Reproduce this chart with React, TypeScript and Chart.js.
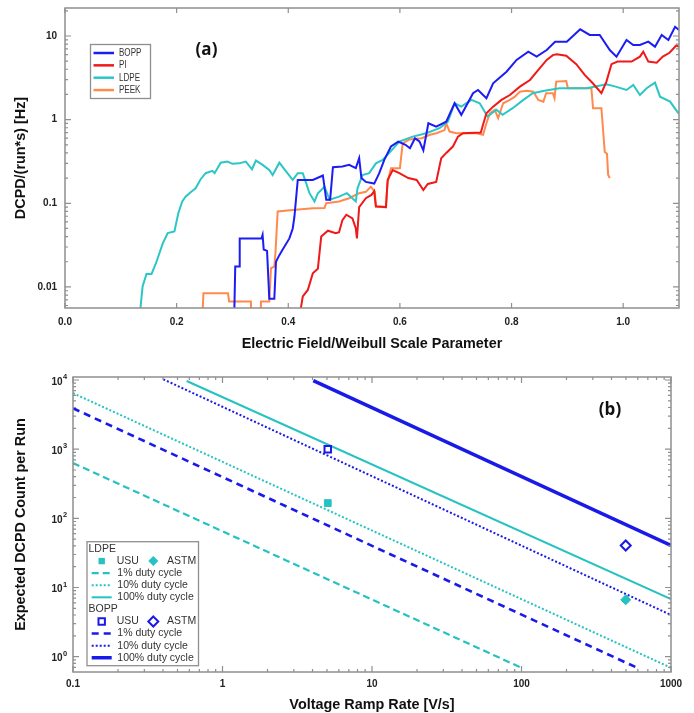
import React, { useEffect, useRef } from "react";
import { Chart, registerables } from "chart.js";
Chart.register(...registerables);

type P = [number, number];

// ---------------- Panel (a): DCPD rate vs. normalized field ----------------
const boppRate: P[] = [
  [0.303, 0.004], [0.305, 0.0175], [0.312, 0.0175], [0.313, 0.038], [0.352, 0.038], [0.354, 0.042],
  [0.356, 0.028], [0.362, 0.027], [0.366, 0.0072], [0.375, 0.0072], [0.378, 0.02], [0.384, 0.024],
  [0.39, 0.028], [0.402, 0.038], [0.408, 0.05], [0.411, 0.069], [0.417, 0.19], [0.444, 0.19],
  [0.462, 0.215], [0.468, 0.11], [0.475, 0.11], [0.48, 0.27], [0.497, 0.275], [0.509, 0.288],
  [0.521, 0.263], [0.527, 0.346], [0.531, 0.2], [0.539, 0.18], [0.554, 0.172], [0.563, 0.229],
  [0.572, 0.33], [0.584, 0.477], [0.597, 0.546], [0.61, 0.5], [0.618, 0.455], [0.627, 0.598],
  [0.635, 0.55], [0.642, 0.43], [0.651, 0.905], [0.665, 0.826], [0.683, 0.946], [0.698, 1.57],
  [0.71, 1.14], [0.731, 2.07], [0.74, 2.26], [0.755, 1.8], [0.767, 2.72], [0.791, 3.74],
  [0.809, 5.17], [0.83, 6.5], [0.845, 5.66], [0.863, 6.8], [0.878, 8.55], [0.899, 8.55],
  [0.923, 12.0], [0.94, 10.3], [0.958, 10.3], [0.976, 6.8], [0.988, 5.66], [1.006, 8.96],
  [1.018, 7.8], [1.03, 7.8], [1.045, 8.55], [1.057, 7.45], [1.069, 10.3], [1.081, 8.96],
  [1.093, 12.9], [1.1, 11.8],
];
const piRate: P[] = [
  [0.419, 0.004], [0.426, 0.0077], [0.435, 0.0092], [0.444, 0.0146], [0.453, 0.0165], [0.459, 0.04],
  [0.471, 0.047], [0.485, 0.044], [0.491, 0.045], [0.497, 0.063], [0.504, 0.073], [0.515, 0.066],
  [0.521, 0.05], [0.523, 0.038], [0.527, 0.09], [0.539, 0.115], [0.549, 0.126], [0.554, 0.14],
  [0.557, 0.092], [0.575, 0.09], [0.578, 0.19], [0.587, 0.25], [0.599, 0.229], [0.615, 0.2],
  [0.63, 0.19], [0.642, 0.144], [0.65, 0.17], [0.665, 0.18], [0.674, 0.346], [0.683, 0.4],
  [0.695, 0.477], [0.704, 0.627], [0.713, 0.687], [0.745, 0.7], [0.748, 0.83], [0.755, 1.19],
  [0.767, 1.43], [0.782, 1.72], [0.797, 1.97], [0.815, 2.48], [0.833, 2.98], [0.848, 3.93],
  [0.863, 5.17], [0.874, 5.9], [0.881, 6.04], [0.898, 5.8], [0.916, 4.6], [0.931, 3.42],
  [0.946, 2.7], [0.961, 2.07], [0.97, 2.85], [0.979, 4.6], [0.99, 4.94], [1.015, 4.94],
  [1.03, 5.66], [1.036, 6.5], [1.045, 4.94], [1.06, 4.8], [1.071, 5.66], [1.083, 6.3],
  [1.095, 7.7], [1.1, 7.4],
];
const ldpeRate: P[] = [
  [0.133, 0.004], [0.139, 0.0101], [0.146, 0.0143], [0.155, 0.0143], [0.163, 0.0192], [0.175, 0.033],
  [0.184, 0.044], [0.196, 0.046], [0.203, 0.076], [0.21, 0.105], [0.216, 0.12], [0.224, 0.134],
  [0.234, 0.151], [0.243, 0.194], [0.252, 0.229], [0.264, 0.244], [0.268, 0.229], [0.279, 0.306],
  [0.291, 0.315], [0.3, 0.296], [0.312, 0.3], [0.324, 0.315], [0.335, 0.255], [0.342, 0.324],
  [0.354, 0.288], [0.366, 0.25], [0.372, 0.218], [0.384, 0.306], [0.396, 0.24], [0.408, 0.19],
  [0.417, 0.229], [0.426, 0.229], [0.432, 0.174], [0.438, 0.132], [0.447, 0.105], [0.453, 0.132],
  [0.465, 0.158], [0.474, 0.11], [0.491, 0.12], [0.505, 0.132], [0.521, 0.105], [0.524, 0.151],
  [0.533, 0.218], [0.545, 0.229], [0.557, 0.3], [0.569, 0.33], [0.581, 0.4], [0.599, 0.546],
  [0.623, 0.627], [0.647, 0.687], [0.671, 0.79], [0.686, 0.946], [0.698, 1.57], [0.71, 1.43],
  [0.728, 1.72], [0.743, 1.57], [0.757, 1.09], [0.773, 1.31], [0.784, 1.14], [0.802, 1.37],
  [0.82, 1.7], [0.838, 2.07], [0.859, 2.22], [0.886, 2.37], [0.935, 2.37], [0.97, 2.65],
  [0.985, 2.5], [1.006, 2.26], [1.018, 2.6], [1.03, 1.97], [1.042, 2.37], [1.057, 2.77],
  [1.066, 1.88], [1.084, 1.64], [1.099, 1.19],
];
const peekRate: P[] = [
  [0.246, 0.004], [0.248, 0.0084], [0.292, 0.0084], [0.294, 0.0067], [0.333, 0.0067], [0.334, 0.004],
  [0.35, 0.004], [0.351, 0.0067], [0.366, 0.0067], [0.369, 0.0168], [0.375, 0.0175], [0.377, 0.0253],
  [0.381, 0.08], [0.408, 0.083], [0.444, 0.087], [0.465, 0.088], [0.468, 0.1], [0.491, 0.105],
  [0.509, 0.115], [0.527, 0.132], [0.539, 0.137], [0.548, 0.158], [0.555, 0.137], [0.557, 0.091],
  [0.575, 0.09], [0.578, 0.18], [0.584, 0.263], [0.6, 0.263], [0.605, 0.52], [0.617, 0.58],
  [0.639, 0.6], [0.654, 0.66], [0.665, 0.687], [0.68, 0.75], [0.683, 0.905], [0.689, 0.72],
  [0.701, 0.687], [0.737, 0.687], [0.749, 0.66], [0.755, 0.905], [0.761, 1.19], [0.77, 1.31],
  [0.776, 1.04], [0.785, 1.57], [0.797, 1.72], [0.806, 1.88], [0.815, 2.16], [0.827, 2.22],
  [0.839, 2.16], [0.848, 1.72], [0.857, 1.64], [0.862, 2.07], [0.874, 2.07], [0.877, 1.8],
  [0.88, 2.85], [0.898, 2.9], [0.901, 2.37], [0.943, 2.37], [0.946, 1.37], [0.961, 1.37],
  [0.967, 0.41], [0.971, 0.39], [0.973, 0.22], [0.976, 0.2],
];
const aSeriesNames = ["BOPP", "PI", "LDPE", "PEEK"];
const aXTicks = [0, 0.2, 0.4, 0.6, 0.8, 1.0];
const aXTickLabels = ["0.0", "0.2", "0.4", "0.6", "0.8", "1.0"];
const aYTicks = [0.01, 0.1, 1, 10];
const aYTickLabels = ["0.01", "0.1", "1", "10"];
const aXRange = [0, 1.1];
const aYRange = [0.0056, 21.6];

// ---------------- Panel (b): expected DCPD count vs ramp rate ----------------
const ldpe1: P[] = [[0.1, 630], [100, 0.69]];
const ldpe10: P[] = [[0.1, 6450], [1000, 0.69]];
const ldpe100: P[] = [[0.576, 9670], [1000, 6.8]];
const bopp1: P[] = [[0.1, 3900], [577, 0.71]];
const bopp10: P[] = [[0.402, 10230], [1000, 4.0]];
const bopp100: P[] = [[4.05, 9770], [1000, 40.5]];
const ldpeUSU: P[] = [[5.06, 166]];
const ldpeASTM: P[] = [[498, 6.65]];
const boppUSU: P[] = [[5.06, 1000]];
const boppASTM: P[] = [[498, 40.5]];
const bXTicks = [0.1, 1, 10, 100, 1000];
const bXTickLabels = ["0.1", "1", "10", "100", "1000"];
const bYExponents = [0, 1, 2, 3, 4];
const bXRange = [0.1, 1000];
const bYRange = [0.607, 11050];

// ---------------- styling ----------------
const FONT = '"Liberation Sans", Arial, sans-serif';
const FRAME = "#8f8f8f";
const TICKTXT = "#222";
const BLUE = "#1c1cf4";
const RED = "#f01818";
const CYAN = "#2cc6c6";
const ORANGE = "#ff8a4c";
const aColors = [BLUE, RED, CYAN, ORANGE];
const bCyan = "#26c2c2";
const bBlue = "#1a1ae8";

function pts(a: P[]) {
  return a.map(([x, y]) => ({ x, y }));
}

function txt(ctx: CanvasRenderingContext2D, s: string, x: number, y: number, font: string,
  align: CanvasTextAlign, color: string, sx = 1, rot = 0) {
  ctx.save();
  ctx.font = font;
  ctx.fillStyle = color;
  ctx.textAlign = align;
  ctx.textBaseline = "middle";
  ctx.translate(x, y);
  if (rot) ctx.rotate(rot);
  ctx.scale(sx, 1);
  ctx.fillText(s, 0, 0);
  ctx.restore();
}

function logTickList(min: number, max: number) {
  const out: [number, boolean][] = [];
  for (let n = Math.floor(Math.log10(min)); n <= Math.ceil(Math.log10(max)); n++) {
    for (let k = 1; k <= 9; k++) {
      const v = k * Math.pow(10, n);
      if (v >= min * 0.9999 && v <= max * 1.0001) out.push([v, k === 1]);
    }
  }
  return out;
}

function drawFrame(ctx: CanvasRenderingContext2D, ca: any) {
  ctx.save();
  ctx.strokeStyle = FRAME;
  ctx.lineWidth = 1.5;
  ctx.strokeRect(ca.left, ca.top, ca.right - ca.left, ca.bottom - ca.top);
  ctx.restore();
}

const decorA = {
  id: "decorA",
  afterDraw(chart: any) {
    const { ctx, chartArea: ca } = chart;
    const xs = chart.scales.x;
    const ys = chart.scales.y;
    drawFrame(ctx, ca);
    ctx.save();
    ctx.strokeStyle = FRAME;
    ctx.lineWidth = 1.2;
    ctx.beginPath();
    aXTicks.forEach((v) => {
      const px = xs.getPixelForValue(v);
      ctx.moveTo(px, ca.bottom); ctx.lineTo(px, ca.bottom - 5);
      ctx.moveTo(px, ca.top); ctx.lineTo(px, ca.top + 5);
    });
    logTickList(aYRange[0], aYRange[1]).forEach(([v, major]) => {
      const py = ys.getPixelForValue(v);
      const L = major ? 6 : 3;
      ctx.moveTo(ca.left, py); ctx.lineTo(ca.left + L, py);
      ctx.moveTo(ca.right, py); ctx.lineTo(ca.right - L, py);
    });
    ctx.stroke();
    ctx.restore();
    const tf = `bold 10px ${FONT}`;
    aXTicks.forEach((v, i) => txt(ctx, aXTickLabels[i], xs.getPixelForValue(v), 322, tf, "center", TICKTXT));
    aYTicks.forEach((v, i) => txt(ctx, aYTickLabels[i], 57, ys.getPixelForValue(v), tf, "right", TICKTXT));
    const title = `bold 14.4px ${FONT}`;
    txt(ctx, "Electric Field/Weibull Scale Parameter", (ca.left + ca.right) / 2, 344, title, "center", "#111");
    txt(ctx, "DCPD/(run*s) [Hz]", 21.5, (ca.top + ca.bottom) / 2, title, "center", "#111", 1, -Math.PI / 2);
    txt(ctx, "(a)", 206.5, 50.5, `bold 17px "Open Sans", ${FONT}`, "center", "#111");
    // legend
    ctx.save();
    ctx.strokeStyle = FRAME;
    ctx.lineWidth = 1.3;
    ctx.strokeRect(90.5, 44.5, 60, 54);
    aSeriesNames.forEach((name, i) => {
      const yy = 53 + i * 12.35;
      ctx.strokeStyle = aColors[i];
      ctx.lineWidth = 2.5;
      ctx.beginPath(); ctx.moveTo(93.5, yy); ctx.lineTo(114, yy); ctx.stroke();
      txt(ctx, name, 119, yy, `10.6px ${FONT}`, "left", "#333", 0.76);
    });
    ctx.restore();
  },
};

function drawMarker(ctx: CanvasRenderingContext2D, kind: "sq" | "dia", x: number, y: number, color: string, filled: boolean) {
  ctx.save();
  ctx.beginPath();
  if (kind === "sq") {
    ctx.rect(x - 3.2, y - 3.2, 6.4, 6.4);
  } else {
    ctx.moveTo(x, y - 5); ctx.lineTo(x + 5, y); ctx.lineTo(x, y + 5); ctx.lineTo(x - 5, y); ctx.closePath();
  }
  if (filled) { ctx.fillStyle = color; ctx.fill(); }
  else { ctx.fillStyle = "#fff"; ctx.fill(); ctx.strokeStyle = color; ctx.lineWidth = 2; ctx.stroke(); }
  ctx.restore();
}

const decorB = {
  id: "decorB",
  afterDraw(chart: any) {
    const { ctx, chartArea: ca } = chart;
    const xs = chart.scales.x;
    const ys = chart.scales.y;
    drawFrame(ctx, ca);
    ctx.save();
    ctx.strokeStyle = FRAME;
    ctx.lineWidth = 1.2;
    ctx.beginPath();
    logTickList(bXRange[0], bXRange[1]).forEach(([v, major]) => {
      const px = xs.getPixelForValue(v);
      const L = major ? 6 : 3;
      ctx.moveTo(px, ca.bottom); ctx.lineTo(px, ca.bottom - L);
      ctx.moveTo(px, ca.top); ctx.lineTo(px, ca.top + L);
    });
    logTickList(bYRange[0], bYRange[1]).forEach(([v, major]) => {
      const py = ys.getPixelForValue(v);
      const L = major ? 6 : 3;
      ctx.moveTo(ca.left, py); ctx.lineTo(ca.left + L, py);
      ctx.moveTo(ca.right, py); ctx.lineTo(ca.right - L, py);
    });
    ctx.stroke();
    ctx.restore();
    const tf = `bold 10px ${FONT}`;
    bXTicks.forEach((v, i) => txt(ctx, bXTickLabels[i], xs.getPixelForValue(v), 328.5, tf, "center", TICKTXT));
    bYExponents.forEach((e) => {
      const py = ys.getPixelForValue(Math.pow(10, e));
      txt(ctx, "10", 62.5, py + 2, tf, "right", TICKTXT);
      txt(ctx, String(e), 63, py - 3, `bold 7.5px ${FONT}`, "left", TICKTXT);
    });
    const title = `bold 14.4px ${FONT}`;
    txt(ctx, "Voltage Ramp Rate [V/s]", (ca.left + ca.right) / 2, 349, title, "center", "#111");
    txt(ctx, "Expected DCPD Count per Run", 21.5, (ca.top + ca.bottom) / 2, title, "center", "#111", 1, -Math.PI / 2);
    txt(ctx, "(b)", 610, 54, `bold 17px "Open Sans", ${FONT}`, "center", "#111");
    // legend
    ctx.save();
    ctx.fillStyle = "#fff";
    ctx.fillRect(87, 185.7, 111.5, 124);
    ctx.strokeStyle = FRAME;
    ctx.lineWidth = 1.3;
    ctx.strokeRect(87, 185.7, 111.5, 124);
    const lf = `10.5px ${FONT}`;
    const lc = "#333";
    const row = (i: number) => 193 + i * 12.08;
    const lineSample = (i: number, color: string, w: number, dash: number[]) => {
      ctx.save();
      ctx.strokeStyle = color; ctx.lineWidth = w; ctx.setLineDash(dash);
      ctx.beginPath(); ctx.moveTo(91.7, row(i)); ctx.lineTo(111.7, row(i)); ctx.stroke();
      ctx.restore();
    };
    const groups: [string, string, boolean, number][] = [["LDPE", bCyan, true, 0], ["BOPP", bBlue, false, 5]];
    groups.forEach(([name, color, filled, base]) => {
      txt(ctx, name, 88.5, row(base), lf, "left", lc);
      drawMarker(ctx, "sq", 101.7, row(base + 1), color, filled);
      txt(ctx, "USU", 116.7, row(base + 1), lf, "left", lc);
      drawMarker(ctx, "dia", 153.3, row(base + 1), color, filled);
      txt(ctx, "ASTM", 167, row(base + 1), lf, "left", lc);
      const isB = base === 5;
      lineSample(base + 2, color, isB ? 2.6 : 2.2, isB ? [7, 5] : [7, 4]);
      txt(ctx, "1% duty cycle", 117.3, row(base + 2), lf, "left", lc);
      lineSample(base + 3, color, 2, [2, 2]);
      txt(ctx, "10% duty cycle", 117.3, row(base + 3), lf, "left", lc);
      lineSample(base + 4, color, isB ? 3.5 : 2, []);
      txt(ctx, "100% duty cycle", 117.3, row(base + 4), lf, "left", lc);
    });
    ctx.restore();
  },
};

export default function App() {
  const refA = useRef<HTMLCanvasElement>(null);
  const refB = useRef<HTMLCanvasElement>(null);
  useEffect(() => {
    const seriesA = [boppRate, piRate, ldpeRate, peekRate];
    const ca = new Chart(refA.current as HTMLCanvasElement, {
      type: "scatter",
      data: {
        datasets: seriesA.map((s, i) => ({
          label: aSeriesNames[i],
          data: pts(s),
          showLine: true,
          borderColor: aColors[i],
          backgroundColor: aColors[i],
          borderWidth: 2,
          pointRadius: 0,
          clip: 0,
        })) as any,
      },
      options: {
        responsive: false,
        animation: false,
        events: [],
        layout: { padding: { left: 65, right: 15, top: 8, bottom: 48 } },
        scales: {
          x: { type: "linear", min: aXRange[0], max: aXRange[1], display: false },
          y: { type: "logarithmic", min: aYRange[0], max: aYRange[1], display: false },
        },
        plugins: { legend: { display: false }, tooltip: { enabled: false } },
      },
      plugins: [decorA],
    });

    const line = (d: P[], color: string, w: number, dash: number[]) => ({
      data: pts(d), showLine: true, borderColor: color, backgroundColor: color, borderWidth: w,
      borderDash: dash, pointRadius: 0, clip: 0,
    });
    const mark = (d: P[], color: string, style: string, r: number, filled: boolean) => ({
      data: pts(d), showLine: false, pointStyle: style, pointRadius: r,
      backgroundColor: filled ? color : "#fff", borderColor: color, borderWidth: filled ? 1 : 2, clip: 0,
    });
    const cb = new Chart(refB.current as HTMLCanvasElement, {
      type: "scatter",
      data: {
        datasets: [
          mark(ldpeUSU, bCyan, "rect", 4.8, true),
          mark(ldpeASTM, bCyan, "rectRot", 5, true),
          mark(boppUSU, bBlue, "rect", 4.6, false),
          mark(boppASTM, bBlue, "rectRot", 5, false),
          line(bopp100, bBlue, 3.5, []),
          line(bopp10, bBlue, 2, [2, 2]),
          line(bopp1, bBlue, 2.6, [7, 5]),
          line(ldpe100, bCyan, 2, []),
          line(ldpe10, bCyan, 2, [2, 2]),
          line(ldpe1, bCyan, 2.2, [7, 4]),
        ] as any,
      },
      options: {
        responsive: false,
        animation: false,
        events: [],
        layout: { padding: { left: 73, right: 23, top: 21, bottom: 41 } },
        scales: {
          x: { type: "logarithmic", min: bXRange[0], max: bXRange[1], display: false },
          y: { type: "logarithmic", min: bYRange[0], max: bYRange[1], display: false },
        },
        plugins: { legend: { display: false }, tooltip: { enabled: false } },
      },
      plugins: [decorB],
    });
    return () => {
      ca.destroy();
      cb.destroy();
    };
  }, []);
  return (
    <div style={{ position: "fixed", left: 0, top: 0, width: 694, height: 713, background: "#fff" }}>
      <canvas ref={refA} width={694} height={356} style={{ position: "absolute", left: 0, top: 0 }} />
      <canvas ref={refB} width={694} height={357} style={{ position: "absolute", left: 0, top: 356 }} />
    </div>
  );
}
